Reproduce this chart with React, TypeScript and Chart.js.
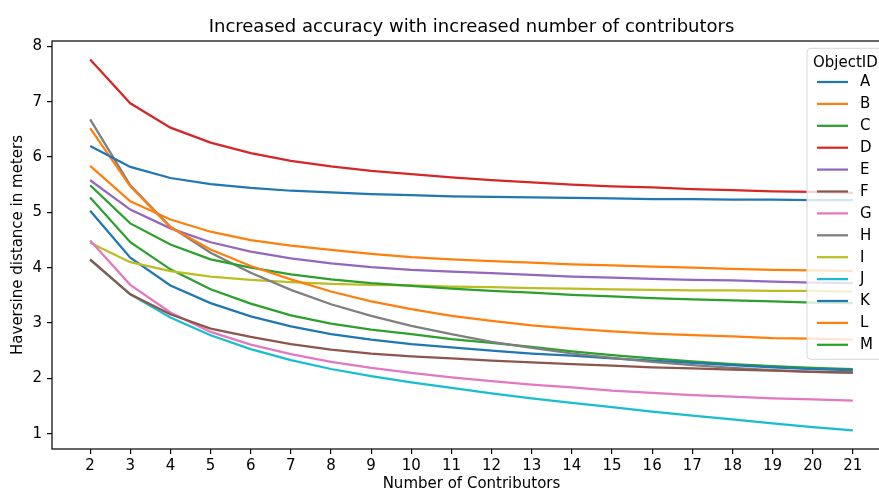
import { useEffect, useRef } from 'react';
import { Chart, registerables } from 'chart.js';

Chart.register(...registerables);

const contributors = [2, 3, 4, 5, 6, 7, 8, 9, 10, 11, 12, 13, 14, 15, 16, 17, 18, 19, 20, 21];
const xTicks = [2, 3, 4, 5, 6, 7, 8, 9, 10, 11, 12, 13, 14, 15, 16, 17, 18, 19, 20, 21];
const yTicks = [1, 2, 3, 4, 5, 6, 7, 8];
const objectIds = ['A', 'B', 'C', 'D', 'E', 'F', 'G', 'H', 'I', 'J', 'K', 'L', 'M'];

const valuesA = [6.2, 5.82, 5.62, 5.51, 5.44, 5.39, 5.36, 5.33, 5.31, 5.29, 5.28, 5.27, 5.26, 5.25, 5.24, 5.24, 5.23, 5.23, 5.22, 5.22];
const valuesB = [6.52, 5.47, 4.73, 4.33, 4.03, 3.79, 3.57, 3.39, 3.25, 3.13, 3.04, 2.96, 2.9, 2.85, 2.81, 2.78, 2.76, 2.73, 2.72, 2.7];
const valuesC = [5.49, 4.8, 4.42, 4.15, 4.0, 3.88, 3.79, 3.72, 3.67, 3.62, 3.58, 3.55, 3.51, 3.48, 3.45, 3.43, 3.41, 3.39, 3.37, 3.36];
const valuesD = [7.76, 6.97, 6.53, 6.26, 6.07, 5.93, 5.83, 5.75, 5.69, 5.63, 5.58, 5.54, 5.5, 5.47, 5.45, 5.42, 5.4, 5.38, 5.37, 5.35];
const valuesE = [5.58, 5.05, 4.71, 4.46, 4.29, 4.17, 4.08, 4.01, 3.96, 3.93, 3.9, 3.87, 3.84, 3.82, 3.8, 3.78, 3.77, 3.75, 3.73, 3.72];
const valuesF = [4.15, 3.52, 3.16, 2.9, 2.75, 2.62, 2.52, 2.45, 2.4, 2.36, 2.32, 2.29, 2.26, 2.23, 2.2, 2.18, 2.16, 2.14, 2.12, 2.11];
const valuesG = [4.49, 3.69, 3.19, 2.84, 2.61, 2.44, 2.3, 2.19, 2.1, 2.02, 1.95, 1.89, 1.84, 1.78, 1.74, 1.7, 1.67, 1.64, 1.62, 1.6];
const valuesH = [6.68, 5.49, 4.74, 4.27, 3.91, 3.6, 3.34, 3.13, 2.95, 2.8, 2.66, 2.55, 2.45, 2.37, 2.3, 2.24, 2.19, 2.15, 2.12, 2.1];
const valuesI = [4.45, 4.1, 3.94, 3.84, 3.78, 3.74, 3.71, 3.69, 3.68, 3.66, 3.65, 3.63, 3.62, 3.61, 3.6, 3.59, 3.59, 3.58, 3.58, 3.57];
const valuesJ = [4.14, 3.52, 3.1, 2.78, 2.53, 2.33, 2.17, 2.04, 1.93, 1.83, 1.73, 1.64, 1.56, 1.48, 1.4, 1.33, 1.26, 1.19, 1.12, 1.06];
const valuesK = [5.03, 4.18, 3.68, 3.36, 3.12, 2.94, 2.8, 2.7, 2.62, 2.56, 2.5, 2.45, 2.41, 2.36, 2.32, 2.28, 2.24, 2.2, 2.17, 2.15];
const valuesL = [5.84, 5.2, 4.87, 4.65, 4.5, 4.4, 4.32, 4.25, 4.19, 4.15, 4.12, 4.09, 4.06, 4.04, 4.02, 4.0, 3.98, 3.96, 3.95, 3.94];
const valuesM = [5.27, 4.46, 3.97, 3.61, 3.35, 3.14, 2.99, 2.88, 2.8, 2.71, 2.64, 2.57, 2.49, 2.42, 2.36, 2.31, 2.26, 2.22, 2.19, 2.17];

const allValues = [valuesA, valuesB, valuesC, valuesD, valuesE, valuesF, valuesG, valuesH, valuesI, valuesJ, valuesK, valuesL, valuesM];

const tab10 = ['#1f77b4', '#ff7f0e', '#2ca02c', '#d62728', '#9467bd', '#8c564b', '#e377c2', '#7f7f7f', '#bcbd22', '#17becf'];

const chartTitle = 'Increased accuracy with increased number of contributors';
const xLabel = 'Number of Contributors';
const yLabel = 'Haversine distance in meters';
const legendTitle = 'ObjectID';

const FONT = '"DejaVu Sans", sans-serif';
const FS = 15;

const decorPlugin = {
  id: 'decor',
  afterDatasetsDraw(chart: any) {
    const { ctx, chartArea: a } = chart;
    ctx.save();
    // spines
    ctx.strokeStyle = '#000';
    ctx.lineWidth = 1.2;
    ctx.strokeRect(a.left, a.top, a.right - a.left, a.bottom - a.top);
    // title
    ctx.fillStyle = '#000';
    ctx.font = `18px ${FONT}`;
    ctx.textAlign = 'center';
    ctx.textBaseline = 'alphabetic';
    ctx.fillText(chartTitle, (a.left + a.right) / 2, a.top - 9);

    // legend
    const boxLeft = a.right - 84;
    const boxTop = a.top + 7.3;
    const boxW = 77;
    const boxH = 311;
    const r = 4;
    ctx.beginPath();
    ctx.moveTo(boxLeft + r, boxTop);
    ctx.lineTo(boxLeft + boxW - r, boxTop);
    ctx.arcTo(boxLeft + boxW, boxTop, boxLeft + boxW, boxTop + r, r);
    ctx.lineTo(boxLeft + boxW, boxTop + boxH - r);
    ctx.arcTo(boxLeft + boxW, boxTop + boxH, boxLeft + boxW - r, boxTop + boxH, r);
    ctx.lineTo(boxLeft + r, boxTop + boxH);
    ctx.arcTo(boxLeft, boxTop + boxH, boxLeft, boxTop + boxH - r, r);
    ctx.lineTo(boxLeft, boxTop + r);
    ctx.arcTo(boxLeft, boxTop, boxLeft + r, boxTop, r);
    ctx.closePath();
    ctx.fillStyle = 'rgba(255,255,255,0.8)';
    ctx.fill();
    ctx.strokeStyle = '#d6d6d6';
    ctx.lineWidth = 1;
    ctx.stroke();

    ctx.fillStyle = '#000';
    ctx.font = `${FS}px ${FONT}`;
    ctx.textAlign = 'left';
    ctx.textBaseline = 'alphabetic';
    ctx.fillText(legendTitle, boxLeft + 6, boxTop + 18.5);

    ctx.textBaseline = 'middle';
    chart.data.datasets.forEach((ds: any, i: number) => {
      const y = boxTop + 33.7 + i * 21.9;
      ctx.strokeStyle = ds.borderColor;
      ctx.lineWidth = 2.25;
      ctx.beginPath();
      ctx.moveTo(boxLeft + 10, y);
      ctx.lineTo(boxLeft + 41, y);
      ctx.stroke();
      ctx.fillStyle = '#000';
      ctx.fillText(ds.label, boxLeft + 53, y + 0.5);
    });
    ctx.restore();
  },
};

export default function App() {
  const canvasRef = useRef<HTMLCanvasElement | null>(null);

  useEffect(() => {
    if (!canvasRef.current) return;
    Chart.defaults.font.family = FONT;

    const flat = allValues.flat();
    const yMinData = Math.min(...flat);
    const yMaxData = Math.max(...flat);
    const yMargin = (yMaxData - yMinData) * 0.05;
    const xMinData = Math.min(...contributors);
    const xMaxData = Math.max(...contributors);
    const xMargin = (xMaxData - xMinData) * 0.05;

    const datasets = objectIds.map((id, i) => ({
      label: id,
      data: contributors.map((c, j) => ({ x: c, y: allValues[i][j] })),
      borderColor: tab10[i % tab10.length],
      backgroundColor: tab10[i % tab10.length],
      borderWidth: 2.25,
      pointRadius: 0,
      tension: 0,
      fill: false,
    }));

    const tickFont = { family: FONT, size: FS };

    const chart = new Chart(canvasRef.current, {
      type: 'line',
      data: { datasets },
      plugins: [decorPlugin],
      options: {
        animation: false,
        responsive: false,
        maintainAspectRatio: false,
        layout: { padding: { top: 41, right: 9, left: 0, bottom: 0 } },
        plugins: {
          legend: { display: false },
          title: { display: false },
          tooltip: { enabled: false },
        },
        scales: {
          x: {
            type: 'linear',
            min: xMinData - xMargin,
            max: xMaxData + xMargin,
            afterBuildTicks: (s: any) => {
              s.ticks = xTicks.map((v) => ({ value: v }));
            },
            afterFit: (s: any) => {
              s.height = 44;
            },
            ticks: { font: tickFont, color: '#000', padding: 3, autoSkip: false, maxRotation: 0 },
            grid: { drawOnChartArea: false, drawTicks: true, tickLength: 5, color: '#000', lineWidth: 1.2 },
            border: { display: false },
            title: { display: true, text: xLabel, font: tickFont, color: '#000', padding: { top: 0, bottom: 0 } },
          },
          y: {
            type: 'linear',
            min: yMinData - yMargin,
            max: yMaxData + yMargin,
            afterBuildTicks: (s: any) => {
              s.ticks = yTicks.map((v) => ({ value: v }));
            },
            afterFit: (s: any) => {
              s.width = 52;
            },
            ticks: { font: tickFont, color: '#000', padding: 5 },
            grid: { drawOnChartArea: false, drawTicks: true, tickLength: 5, color: '#000', lineWidth: 1.2 },
            border: { display: false },
            title: { display: true, text: yLabel, font: tickFont, color: '#000', padding: { top: 9, bottom: 0 } },
          },
        },
      } as any,
    });

    return () => {
      chart.destroy();
    };
  }, []);

  return (
    <div style={{ position: 'fixed', left: 0, top: 0, width: 879, height: 493, overflow: 'hidden', background: '#fff' }}>
      <canvas ref={canvasRef} width={900} height={493} style={{ display: 'block', width: 900, height: 493 }} />
    </div>
  );
}
